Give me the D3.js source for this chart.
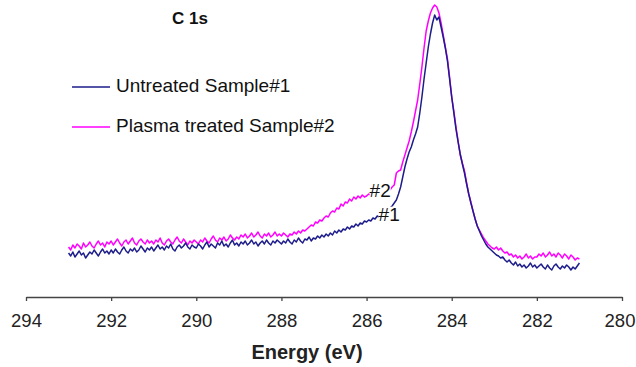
<!DOCTYPE html>
<html>
<head>
<meta charset="utf-8">
<script src="https://cdn.jsdelivr.net/npm/d3@7"></script>
<style>
  body { margin: 0; background: #fff; }
  svg { display: block; font-family: "Liberation Sans", Arial, sans-serif; }
</style>
</head>
<body>
<div id="chart"></div>
<script>
// binding energy grid, 293.00 -> 281.00 eV in 0.05 eV steps
const energy = d3.range(241).map(i => +(293 - i * 0.05).toFixed(2));

// intensity (a.u.), one row per eV
const untreated = [
  44, 41, 45, 40, 43, 46, 42, 44, 39, 42, 45, 43, 47, 44, 41, 45, 48, 44, 46, 43,
  47, 44, 48, 45, 43, 47, 50, 46, 44, 48, 46, 49, 45, 47, 51, 48, 45, 49, 47, 50,
  46, 49, 52, 48, 50, 47, 51, 49, 53, 48, 46, 50, 52, 49, 51, 54, 50, 48, 52, 50,
  49, 53, 51, 48, 52, 55, 50, 53, 51, 49, 54, 52, 56, 51, 53, 50, 54, 57, 52, 54,
  51, 55, 53, 56, 52, 54, 57, 53, 55, 51, 54, 56, 53, 57, 54, 52, 56, 54, 57, 55,
  53, 56, 54, 58, 55, 53, 57, 55, 59, 56, 54, 58, 57, 60, 56, 59, 58, 61, 59, 62,
  60, 63, 61, 64, 62, 66, 64, 67, 65, 68, 67, 70, 68, 71, 70, 73, 71, 74, 73, 76,
  75, 77, 76, 79, 78, 81, 80, 83, 84, 86, 87, 89, 91, 94, 97, 103, 110, 120, 130, 138,
  145, 150, 157, 163, 170, 184, 200, 218, 234, 250, 263, 274, 282, 277, 280, 270, 260, 249, 236, 218,
  200, 184, 168, 155, 143, 133, 124, 113, 103, 94, 86, 78, 71, 66, 61, 57, 53, 50, 48, 46,
  44, 42, 41, 39, 40, 37, 35, 37, 34, 32, 35, 31, 33, 30, 32, 29, 31, 34, 30, 32,
  29, 31, 33, 30, 28, 32, 29, 27, 31, 33, 30, 28, 31, 29, 32, 30, 27, 30, 28, 31,
  34
];

const plasma = [
  50, 47, 52, 49, 53, 51, 48, 54, 50, 52, 55, 51, 49, 53, 56, 52, 54, 50, 55, 53,
  56, 52, 55, 58, 54, 51, 55, 57, 53, 56, 59, 54, 52, 56, 58, 55, 53, 57, 54, 56,
  53, 57, 55, 59, 54, 52, 56, 58, 55, 53, 57, 60, 56, 54, 58, 55, 52, 56, 54, 57,
  55, 53, 57, 55, 59, 56, 54, 58, 61, 57, 55, 59, 57, 60, 56, 58, 62, 59, 57, 60,
  58, 62, 60, 63, 59, 61, 64, 60, 62, 65, 61, 59, 63, 61, 64, 60, 62, 65, 61, 63,
  61, 64, 62, 60, 63, 62, 65, 63, 66, 64, 67, 66, 68, 70, 72, 71, 75, 74, 77, 76,
  79, 81, 80, 84, 86, 85, 89, 88, 93, 91, 95, 94, 98, 96, 100, 98, 101, 99, 102, 100,
  101, 103, 102, 104, 103, 105, 104, 106, 105, 107, 108, 107, 110, 112, 124, 126, 127, 135, 142, 149,
  156, 165, 175, 186, 197, 213, 230, 249, 266, 276, 284, 289, 292, 290, 284, 274, 262, 250, 238, 220,
  200, 186, 170, 156, 142, 134, 126, 114, 103, 95, 86, 78, 71, 67, 63, 59, 56, 53, 51, 49,
  48, 50, 47, 49, 46, 44, 45, 42, 43, 40, 42, 39, 41, 38, 40, 43, 39, 41, 38, 40,
  40, 43, 41, 44, 40, 42, 45, 41, 43, 40, 44, 42, 39, 43, 41, 38, 42, 40, 37, 39,
  38
];

const xTicks = [294, 292, 290, 288, 286, 284, 282, 280];

const seriesNames = ["Untreated Sample#1", "Plasma treated Sample#2"];
const seriesColors = ["#1c1c8a", "#ff00ff"];

const width = 636, height = 367;

const svg = d3.select("#chart").append("svg")
  .attr("width", width)
  .attr("height", height);

const x = d3.scaleLinear().domain([294, 280]).range([26, 622]);
const y = d3.scaleLinear().domain([0, 300]).range([297, -3]);

const line = d3.line()
  .x(d => x(d[0]))
  .y(d => y(d[1]));

// plasma first so the untreated trace sits on top
[[plasma, seriesColors[1]], [untreated, seriesColors[0]]].forEach(([vals, col]) => {
  svg.append("path")
    .datum(energy.map((e, i) => [e, vals[i]]))
    .attr("fill", "none")
    .attr("stroke", col)
    .attr("stroke-width", 1.5)
    .attr("stroke-linejoin", "round")
    .attr("d", line);
});

// x axis
const xAxis = d3.axisBottom(x)
  .tickValues(xTicks)
  .tickFormat(d3.format("d"))
  .tickSize(4)
  .tickSizeOuter(0);

const gx = svg.append("g")
  .attr("transform", `translate(0,${y(0)})`)
  .call(xAxis);
gx.select(".domain").attr("stroke", "#444").attr("stroke-width", 1.3);
gx.selectAll(".tick line").attr("stroke", "#444").attr("stroke-width", 1.3);
gx.selectAll(".tick text")
  .attr("fill", "#222")
  .attr("y", 30)
  .attr("dy", null)
  .attr("dx", d => d === 280 ? -2.5 : 0)
  .style("font-size", "18.5px");

svg.append("text")
  .attr("x", 307)
  .attr("y", 359)
  .attr("text-anchor", "middle")
  .attr("font-weight", "bold")
  .attr("font-size", 20)
  .attr("fill", "#222")
  .text("Energy (eV)");

// title
svg.append("text")
  .attr("x", 172)
  .attr("y", 24)
  .attr("font-weight", "bold")
  .attr("font-size", 17)
  .attr("fill", "#111")
  .text("C 1s");

// legend
const legend = svg.append("g");
seriesNames.forEach((name, i) => {
  const ly = 87 + i * 40;
  legend.append("line")
    .attr("x1", 72).attr("x2", 110)
    .attr("y1", ly).attr("y2", ly)
    .attr("stroke", seriesColors[i])
    .attr("stroke-width", 1.5);
  legend.append("text")
    .attr("x", 116)
    .attr("y", ly + 5)
    .attr("font-size", 19)
    .attr("fill", "#111")
    .text(name);
});

// curve labels with white boxes that break the traces
const curveLabels = [
  { text: "#2", e: 285.68, v: 107 },
  { text: "#1", e: 285.47, v: 83 }
];
curveLabels.forEach(d => {
  const t = svg.append("text")
    .attr("x", x(d.e))
    .attr("y", y(d.v))
    .attr("text-anchor", "middle")
    .attr("dy", "0.35em")
    .attr("font-size", 19)
    .attr("fill", "#111")
    .text(d.text);
  const b = t.node().getBBox();
  svg.insert("rect", () => t.node())
    .attr("x", b.x).attr("y", b.y + 3)
    .attr("width", b.width).attr("height", b.height - 6)
    .attr("fill", "#fff");
});
</script>
</body>
</html>
